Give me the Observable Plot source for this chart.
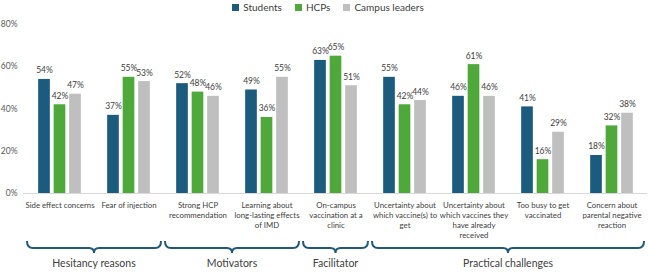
<!DOCTYPE html>
<html>
<head>
<meta charset="utf-8">
<script src="https://cdn.jsdelivr.net/npm/d3@7"></script>
<script src="https://cdn.jsdelivr.net/npm/@observablehq/plot@0.6"></script>
<style>
  html, body { margin: 0; padding: 0; background: #fff; }
  body { width: 650px; height: 272px; overflow: hidden; font-family: Lato, "Open Sans", sans-serif; }
  #legend { height: 14px; display: flex; justify-content: center; align-items: center; gap: 13px; font-size: 10px; color: #404040; padding-left: 6px; }
  #legend span.sw { display: inline-block; width: 7px; height: 7px; margin-right: 4px; vertical-align: middle; position: relative; top: -1px; }
</style>
</head>
<body>
<div id="legend"></div>
<div id="chart"></div>
<script>
const categories = ["Side effect concerns", "Fear of injection", "Strong HCP recommendation", "Learning about long-lasting effects of IMD", "On-campus vaccination at a clinic", "Uncertainty about which vaccine(s) to get", "Uncertainty about which vaccines they have already received", "Too busy to get vaccinated", "Concern about parental negative reaction"];
const categoryLabels = ["Side effect concerns", "Fear of injection", "Strong HCP\nrecommendation", "Learning about\nlong-lasting effects\nof IMD", "On-campus\nvaccination at a\nclinic", "Uncertainty about\nwhich vaccine(s) to\nget", "Uncertainty about\nwhich vaccines they\nhave already\nreceived", "Too busy to get\nvaccinated", "Concern about\nparental negative\nreaction"];
const series = ["Students", "HCPs", "Campus leaders"];
const colors = ["#1b5c7e", "#4ea83a", "#bfbfbf"];
const students = [54, 37, 52, 49, 63, 55, 46, 41, 18];
const hcps = [42, 55, 48, 36, 65, 42, 61, 16, 32];
const campusLeaders = [47, 53, 46, 55, 51, 44, 46, 29, 38];
const yTicks = [0, 20, 40, 60, 80];
const groups = ["Hesitancy reasons", "Motivators", "Facilitator", "Practical challenges"];
const groupStart = [0, 2, 4, 5];
const groupEnd = [1, 3, 4, 8];

const rows = categories.map((c, i) => ({cat: c, students: students[i], hcps: hcps[i], campus: campusLeaders[i]}));
const keys = ["students", "hcps", "campus"];

// legend
const legend = document.getElementById("legend");
series.forEach((s, i) => {
  const item = document.createElement("div");
  item.innerHTML = `<span class="sw" style="background:${colors[i]}"></span>${s}`;
  legend.appendChild(item);
});

const width = 650, height = 258;
const marginLeft = 23, marginRight = 3;
const step = (width - marginLeft - marginRight) / categories.length;
const barW = 12, barGap = 15.5;
const offsets = [-barGap, 0, barGap];

const marks = [];
keys.forEach((k, i) => {
  marks.push(Plot.barY(rows, {
    x: "cat", y: k, fill: colors[i],
    insetLeft: step / 2 + offsets[i] - barW / 2,
    insetRight: step / 2 - offsets[i] - barW / 2
  }));
  marks.push(Plot.text(rows, {
    x: "cat", y: k, dx: offsets[i], dy: -6, text: d => d[k] + "%",
    fill: "#404040", fontSize: 8.5, lineAnchor: "bottom"
  }));
});

const chart = Plot.plot({
  width, height,
  marginTop: 10, marginBottom: 79, marginLeft, marginRight,
  style: {fontFamily: "Lato, 'Open Sans', sans-serif", background: "#fff", overflow: "visible"},
  x: {domain: categories, padding: 0, axis: null, label: null},
  y: {domain: [0, 80], axis: null, label: null},
  marks: [
    Plot.ruleY([0], {stroke: "#d9d9d9", strokeWidth: 1}),
    ...marks,
    Plot.axisY({ticks: yTicks, tickFormat: d => d + "%", tickSize: 0, tickPadding: 6, fontSize: 8.5, fill: "#595959", label: null}),
    Plot.axisX({tickSize: 0, tickPadding: 7, fontSize: 7.8, fill: "#404040", label: null, tickFormat: (d) => categoryLabels[categories.indexOf(d)], lineHeight: 1.3}),
    function braces(index, scales, values, dims) {
      const g = d3.create("svg:g");
      const x = scales.x;
      const bw = x.bandwidth();
      const yTop = dims.height - dims.marginBottom + 48;
      const yLine = yTop + 7;
      const yTip = yLine + 5;
      groups.forEach((name, i) => {
        const x0 = x(categories[groupStart[i]]) + 2;
        const x1 = x(categories[groupEnd[i]]) + bw - 2;
        const xm = (x0 + x1) / 2;
        const p = `M${x0},${yTop} Q${x0},${yLine} ${x0 + 6},${yLine} L${xm - 5},${yLine} Q${xm},${yLine} ${xm},${yTip} Q${xm},${yLine} ${xm + 5},${yLine} L${x1 - 6},${yLine} Q${x1},${yLine} ${x1},${yTop}`;
        g.append("path").attr("d", p).attr("fill", "none").attr("stroke", "#1f5a7a").attr("stroke-width", 2);
        g.append("text").attr("x", xm).attr("y", yTip + 11).attr("text-anchor", "middle")
          .attr("dominant-baseline", "middle").attr("font-size", 10.5).attr("fill", "#404040").text(name);
      });
      return g.node();
    }
  ]
});
document.getElementById("chart").appendChild(chart);
</script>
</body>
</html>
